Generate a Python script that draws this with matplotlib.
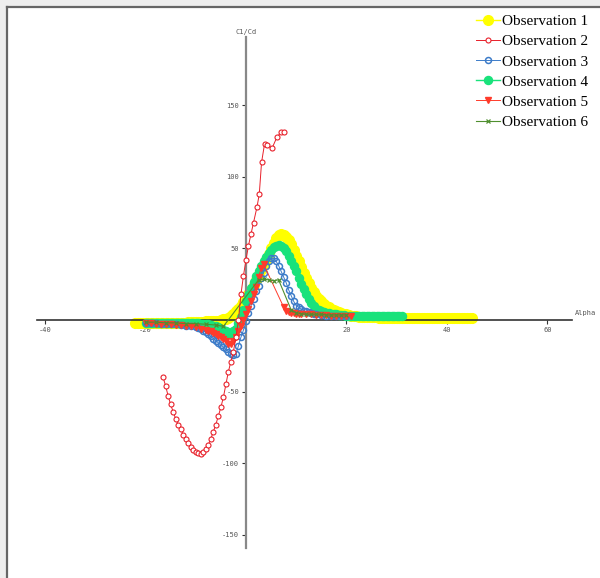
import matplotlib
matplotlib.use("Agg")
import numpy as np
import matplotlib.pyplot as plt
from matplotlib.lines import Line2D
from matplotlib.patches import Rectangle

plt.rcParams["axes.unicode_minus"] = False

# Observation 1 (yellow filled circles), alpha every 0.5 deg from -22 to 45
y1 = ([-2] * 21 + [-1.5] * 7 + [-1] * 4 + [-0.5] * 2 +
      [0, 0.5, 1, 1.5, 2.5, 4, 6, 8, 10, 12.5, 15, 18, 21, 24.5, 28, 31.5, 35, 38.5, 42,
       46, 50, 54, 57, 59, 60, 59.5, 58, 56, 53, 49, 45, 41, 37, 33, 29, 25.5, 22, 19.5,
       17, 15, 13, 11.5, 10, 9, 8, 7, 6, 5.5, 5, 4.5, 4, 3.5, 3, 2.8, 2.5, 2.3, 2] +
      [2] * 6 + [1.5] * 38)
x1 = np.arange(-22, 45.25, 0.5)

# Observation 2 (red open circles)
x2 = [-16.5, -16, -15.5, -15, -14.5, -14, -13.5, -13, -12.5, -12, -11.5, -11, -10.5, -10,
      -9.5, -9, -8.5, -8, -7.5, -7, -6.5, -6, -5.5, -5, -4.5, -4, -3.5, -3, -2.5, -2, -1.5,
      -1, -0.5, 0, 0.5, 1, 1.5, 2.2, 2.65, 3.1, 3.7, 4.25, 5.2, 6.2, 7.0, 7.6]
y2 = [-40, -46, -53, -59, -64, -69, -73, -76, -80, -83, -86, -89, -91, -92, -93, -93.5,
      -92, -90, -87, -83, -78, -73, -67, -61, -54, -45, -36, -29, -22, -12, 0, 18, 31, 42,
      52, 60, 68, 79, 88, 110, 123, 122, 120, 128, 131, 131]

# Observation 3 (blue open circles)
x3 = [-20, -19, -18, -17, -16, -15, -14, -13, -12, -11, -10, -9.5, -9, -8.5, -8, -7.5, -7,
      -6.5, -6, -5.5, -5, -4.5, -4, -3.5, -3, -2.5, -2, -1.5, -1, -0.5, 0, 0.5, 1, 1.5, 2,
      2.5, 3, 3.5, 4, 4.5, 5, 5.5, 6, 6.5, 7, 7.5, 8, 8.5, 9, 9.5, 10, 10.5, 11, 11.5, 12,
      12.5, 13, 13.5, 14, 15, 16, 17, 18, 19, 20]
y3 = [-2, -2, -2, -2.5, -2.5, -3, -3, -3.5, -4, -4.5, -5, -5.5, -6.5, -7.5, -8.5, -10,
      -11.5, -13, -14.5, -16, -17.5, -19, -20.5, -22, -23.5, -24.5, -24, -18, -12, -7, -1,
      5, 10, 15, 20, 24, 29, 33, 38, 41, 43, 43, 41, 38, 34, 30, 26, 21, 17, 13, 10, 9,
      7.5, 6.5, 6, 5.5, 5, 4.5, 4, 3.5, 3, 3, 2.5, 2.5, 2.5]

# Observation 4 (green filled circles), alpha every 0.5 deg from -20 to 31
y4 = ([-2] * 22 +
      [-2.5, -2.5, -3, -3, -3.5, -4, -4.5, -5, -6, -7, -8, -9, -9.5, -8, -6, -2, 2, 7, 13,
       17.5, 22, 26.5, 31, 34.5, 38, 41, 44, 46.5, 49, 51, 52, 52.5, 52, 50, 48, 45, 41,
       37.5, 34, 29.5, 25, 21.5, 18, 15, 12, 10, 8, 7, 6.5, 5.5, 5, 4.8, 4.5, 4.2, 4, 3.8,
       3.5, 3.2, 3] +
      [3] * 8 + [2.5] * 14)
x4 = np.arange(-20, 31.25, 0.5)

# Observation 5 (red filled triangles)
x5 = [-20, -19, -18, -17, -16, -15, -14, -13, -12, -11, -10, -9, -8, -7.5, -7, -6.5, -6,
      -5.5, -5, -4.5, -4, -3.5, -3, -2.5, -2, -1.5, -1, -0.5, 0, 0.5, 1, 1.5, 2, 2.5, 3,
      3.5, 7.5, 8, 8.5, 9, 9.5, 10, 10.5, 11, 12, 13, 14, 15, 16, 17, 18, 19, 20, 21]
y5 = [-2, -2, -2.5, -2.5, -3, -3, -3.5, -3.5, -4, -4.5, -5, -6, -7, -7.5, -8, -9, -10,
      -11, -12, -13.5, -15, -16.5, -17, -15, -12, -8, -4, 0, 4, 8, 13, 18, 23, 30, 36, 39,
      9, 6.5, 5.5, 5, 4.8, 4.5, 4.2, 4, 4, 4, 3.5, 3.5, 3.5, 3, 3, 3, 3, 3]

# Observation 6 (olive crosses)
x6 = [-20, -18, -16, -14, -12, -10, -8, -6, -4.5, 2.5, 3.5, 4.5, 5.5, 6.5, 9, 10, 11, 12,
      13, 14, 15, 16, 17, 18, 19, 20]
y6 = [-1.5, -1.5, -2, -2, -2.5, -2.5, -3, -3.5, -4.5, 28, 28.5, 28, 27.5, 28, 7, 5, 4.5,
      4, 4, 4, 4, 3.5, 3.5, 3.5, 3.5, 3.5]

xticks = [-40, -20, 20, 40, 60]
yticks = [-150, -100, -50, 50, 100, 150]

W, H = 600, 578
fig = plt.figure(figsize=(W / 100, H / 100), dpi=100)

# screenshot-style frame on the left and top
fig.add_artist(Rectangle((0, 0), 6 / W, 1, transform=fig.transFigure, color="#eeeeee", lw=0))
fig.add_artist(Rectangle((0, 1 - 6 / H), 1, 6 / H, transform=fig.transFigure, color="#eeeeee", lw=0))
fig.add_artist(Line2D([7 / W, 7 / W], [0, 1 - 7 / H], transform=fig.transFigure, color="#666666", lw=1.6))
fig.add_artist(Line2D([7 / W, 1], [1 - 7 / H, 1 - 7 / H], transform=fig.transFigure, color="#666666", lw=1.6))

ax = fig.add_axes([37 / W, 1 - 548 / H, (572 - 37) / W, (548 - 37) / H])
ax.patch.set_alpha(0)
ax.set_xlim(-41.6, 64.9)
ax.set_ylim(-159.2, 197.6)

for s in ["top", "right"]:
    ax.spines[s].set_visible(False)
ax.spines["left"].set_position(("data", 0))
ax.spines["bottom"].set_position(("data", 0))
ax.spines["left"].set_color("#888888")
ax.spines["left"].set_linewidth(1.6)
ax.spines["bottom"].set_color("#333333")
ax.spines["bottom"].set_linewidth(1.2)

ax.set_xticks(xticks)
ax.set_yticks(yticks)
ax.tick_params(direction="out", length=3, width=0.8, colors="#333333",
               labelsize=5, labelcolor="#555555", pad=2)
for lab in ax.get_xticklabels() + ax.get_yticklabels():
    lab.set_family("DejaVu Sans Mono")

ax.text(0, 199, "C1/Cd", ha="center", va="bottom", fontsize=5,
        family="DejaVu Sans Mono", color="#555555")
ax.text(65.5, 3, "Alpha", ha="left", va="bottom", fontsize=5,
        family="DejaVu Sans Mono", color="#555555", clip_on=False)

h1, = ax.plot(x1, y1, color="#ffff00", marker="o", ms=7, lw=1, zorder=2, label="Observation 1")
h2, = ax.plot(x2, y2, color="#e8202a", marker="o", ms=3.6, mfc="white", mew=0.8, lw=0.7,
              zorder=7, label="Observation 2")
h3, = ax.plot(x3, y3, color="#3d7cc9", marker="o", ms=4.3, mfc="none", mew=1.1, lw=0.7,
              zorder=4, label="Observation 3")
h4, = ax.plot(x4, y4, color="#19e27b", marker="o", ms=5.8, lw=1, zorder=3, label="Observation 4")
h5, = ax.plot(x5, y5, color="#ff3b2b", marker="v", ms=4.8, lw=0.7, zorder=5, label="Observation 5")
h6, = ax.plot(x6, y6, color="#4f8f2f", marker="x", ms=3.2, mew=0.9, lw=0.8, zorder=6,
              label="Observation 6")

fig.legend(handles=[h1, h2, h3, h4, h5, h6], loc="upper right",
           bbox_to_anchor=(596 / W, 1 - 7 / H), frameon=False,
           prop={"family": "Liberation Serif", "size": 11},
           handlelength=1.6, handletextpad=0.15, labelspacing=0.42, borderpad=0,
           markerscale=1.0)

fig.savefig("out.png", dpi=100)
